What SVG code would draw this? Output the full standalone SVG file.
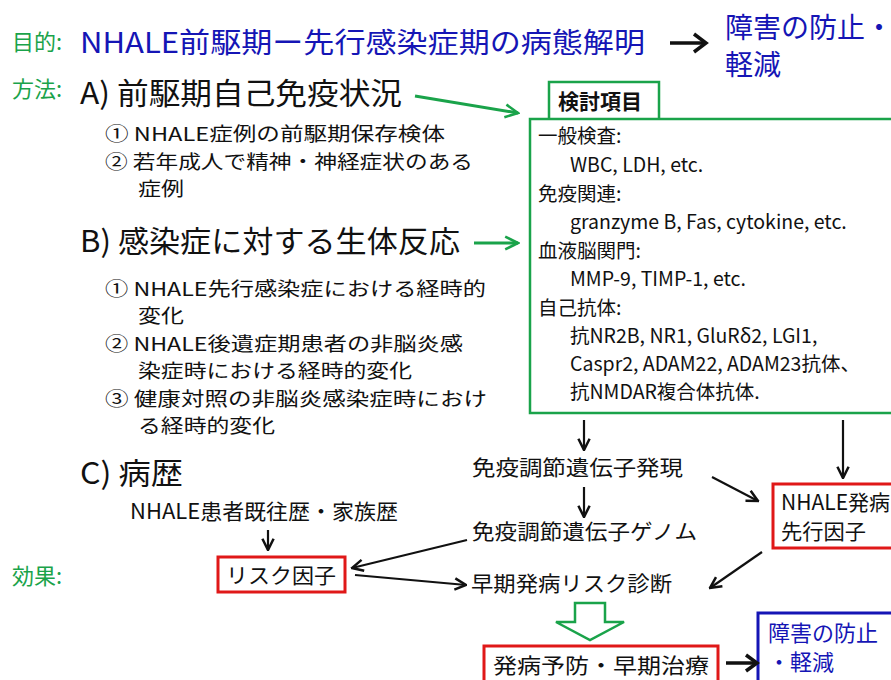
<svg xmlns="http://www.w3.org/2000/svg" width="891" height="680" viewBox="0 0 891 680">
<defs>
<style>
text{font-family:"Noto Sans CJK JP","Liberation Sans",sans-serif;fill:#111}
.g{fill:#1aa34a}
.b{fill:#1515b5}
.h{font-size:30px}
.s{font-size:19px}
.j{font-size:19.5px}
.m{font-size:21px}
.k{font-size:19.5px}
.c{stroke:#111;stroke-width:2.2;fill:none}
.ga{stroke:#1aa34a;stroke-width:3;fill:none}
.rb{fill:#fff;stroke:#e01818;stroke-width:3}
</style>
<marker id="ahl" viewBox="0 0 10 10" refX="9" refY="5" markerWidth="14" markerHeight="14" orient="auto" markerUnits="userSpaceOnUse"><path d="M1,1 L9,5 L1,9" fill="none" stroke="#111" stroke-width="1.8"/></marker>
<marker id="ahg" viewBox="0 0 10 10" refX="9" refY="5" markerWidth="16" markerHeight="16" orient="auto" markerUnits="userSpaceOnUse"><path d="M1,1 L9,5 L1,9" fill="none" stroke="#1aa34a" stroke-width="1.6"/></marker>
</defs>
<rect width="891" height="680" fill="#fff"/>

<g id="title">
<text x="12" y="50" class="g" font-size="22">目的:</text>
<text x="80" y="53" class="b" font-size="28" textLength="565" lengthAdjust="spacingAndGlyphs">NHALE前駆期ー先行感染症期の病態解明</text>
<text x="725" y="38" class="b" font-size="28">障害の防止・</text>
<text x="725" y="75" class="b" font-size="28">軽減</text>
</g>

<g id="methodA">
<text x="12" y="97" class="g" font-size="22">方法:</text>
<text x="80" y="104" class="h" textLength="322" lengthAdjust="spacingAndGlyphs">A) 前駆期自己免疫状況</text>
<text x="105" y="141" class="s" textLength="340" lengthAdjust="spacingAndGlyphs">① NHALE症例の前駆期保存検体</text>
<text x="105" y="169" class="s" textLength="368" lengthAdjust="spacingAndGlyphs">② 若年成人で精神・神経症状のある</text>
<text x="138" y="196" class="s" textLength="46" lengthAdjust="spacingAndGlyphs">症例</text>
</g>

<g id="methodB">
<text x="80" y="252" class="h" textLength="380" lengthAdjust="spacingAndGlyphs">B) 感染症に対する生体反応</text>
<text x="105" y="296" class="s" textLength="381" lengthAdjust="spacingAndGlyphs">① NHALE先行感染症における経時的</text>
<text x="138" y="323" class="s" textLength="46" lengthAdjust="spacingAndGlyphs">変化</text>
<text x="105" y="351" class="s" textLength="358" lengthAdjust="spacingAndGlyphs">② NHALE後遺症期患者の非脳炎感</text>
<text x="138" y="378" class="s" textLength="274" lengthAdjust="spacingAndGlyphs">染症時における経時的変化</text>
<text x="105" y="406" class="s" textLength="382" lengthAdjust="spacingAndGlyphs">③ 健康対照の非脳炎感染症時におけ</text>
<text x="138" y="433" class="s" textLength="137" lengthAdjust="spacingAndGlyphs">る経時的変化</text>
</g>

<g id="methodC">
<text x="80" y="484" class="h" textLength="103" lengthAdjust="spacingAndGlyphs">C) 病歴</text>
<text x="130" y="519" class="m" textLength="268" lengthAdjust="spacingAndGlyphs">NHALE患者既往歴・家族歴</text>
</g>

<g id="items">
<rect x="549" y="82" width="110" height="38" fill="#fff" stroke="#1aa34a" stroke-width="2.5"/>
<text x="558" y="109" font-size="21" font-weight="bold">検討項目</text>
<rect x="530" y="119" width="370" height="294" fill="#fff" stroke="#1aa34a" stroke-width="2.5"/>
<text x="538" y="143" class="j">一般検査:</text>
<text x="570" y="172" class="k">WBC, LDH, etc.</text>
<text x="538" y="201" class="j">免疫関連:</text>
<text x="570" y="229" class="k">granzyme B, Fas, cytokine, etc.</text>
<text x="538" y="258" class="j">血液脳関門:</text>
<text x="570" y="286" class="k">MMP-9, TIMP-1, etc.</text>
<text x="538" y="315" class="j">自己抗体:</text>
<text x="570" y="343" class="k">抗NR2B, NR1, GluRδ2, LGI1,</text>
<text x="570" y="371" class="k">Caspr2,  ADAM22, ADAM23抗体、</text>
<text x="570" y="399" class="k">抗NMDAR複合体抗体.</text>
</g>

<g id="expr"><text x="472" y="475" class="m" textLength="211" lengthAdjust="spacingAndGlyphs">免疫調節遺伝子発現</text></g>
<g id="genome"><text x="472" y="539" class="m" textLength="225" lengthAdjust="spacingAndGlyphs">免疫調節遺伝子ゲノム</text></g>
<g id="diag"><text x="471" y="591" class="m" textLength="201" lengthAdjust="spacingAndGlyphs">早期発病リスク診断</text></g>

<g id="effect"><text x="12" y="584" class="g" font-size="22">効果:</text></g>

<g id="risk">
<rect x="218" y="557" width="127" height="35" class="rb"/>
<text x="226" y="583" class="m" textLength="110" lengthAdjust="spacingAndGlyphs">リスク因子</text>
</g>

<g id="onset">
<rect x="773" y="484" width="130" height="64" class="rb"/>
<text x="781" y="510" class="m">NHALE発病</text>
<text x="781" y="539" class="m" textLength="85" lengthAdjust="spacingAndGlyphs">先行因子</text>
</g>

<g id="prevent">
<rect x="484" y="646" width="234" height="40" class="rb"/>
<text x="493" y="673" class="m" textLength="216" lengthAdjust="spacingAndGlyphs">発病予防・早期治療</text>
</g>

<g id="result">
<rect x="758" y="613" width="140" height="75" fill="#fff" stroke="#1515b5" stroke-width="3"/>
<text x="768" y="641" class="b" font-size="22">障害の防止</text>
<text x="768" y="670" class="b" font-size="22">・軽減</text>
</g>

<g id="connectors">
<path d="M670,43 H704" stroke="#111" stroke-width="3.5" fill="none"/>
<path d="M694,34 L706,43 L694,52" stroke="#111" stroke-width="3.5" fill="none"/>
<line x1="415" y1="96" x2="518" y2="113" class="ga" marker-end="url(#ahg)"/>
<line x1="474" y1="243" x2="518" y2="243" class="ga" marker-end="url(#ahg)"/>
<line x1="584" y1="420" x2="584" y2="450" class="c" marker-end="url(#ahl)"/>
<line x1="584" y1="487" x2="584" y2="517" class="c" marker-end="url(#ahl)"/>
<line x1="843" y1="420" x2="843" y2="478" class="c" marker-end="url(#ahl)"/>
<line x1="712" y1="477" x2="758" y2="501" class="c" marker-end="url(#ahl)"/>
<line x1="762" y1="552" x2="710" y2="588" class="c" marker-end="url(#ahl)"/>
<line x1="268" y1="530" x2="268" y2="550" class="c" marker-end="url(#ahl)"/>
<line x1="467" y1="540" x2="352" y2="568" class="c" marker-end="url(#ahl)"/>
<line x1="355" y1="575" x2="466" y2="585" class="c" marker-end="url(#ahl)"/>
<path d="M575,603 H605 V622 H624 L590,640 L556,622 H575 Z" fill="#fff" stroke="#1aa34a" stroke-width="2.5"/>
<path d="M726,663 H755" stroke="#111" stroke-width="3.5" fill="none"/>
<path d="M746,655 L757,663 L746,671" stroke="#111" stroke-width="3.5" fill="none"/>
</g>
</svg>
